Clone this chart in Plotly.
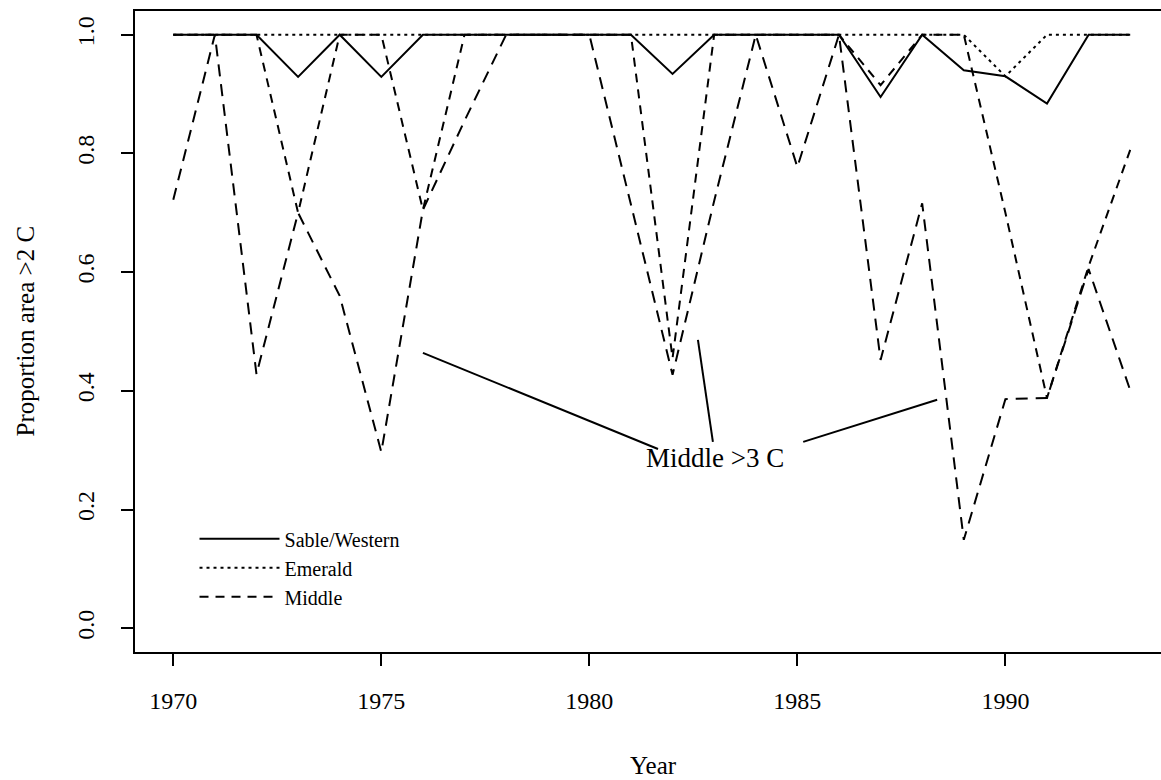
import plotly.graph_objects as go

years = list(range(1970, 1994))
sable_western = [1.0, 1.0, 1.0, 0.929, 1.0, 0.929, 1.0, 1.0, 1.0, 1.0, 1.0, 1.0,
                 0.934, 1.0, 1.0, 1.0, 1.0, 0.895, 1.0, 0.94, 0.93, 0.884, 1.0, 1.0]
emerald = [1.0, 1.0, 1.0, 1.0, 1.0, 1.0, 1.0, 1.0, 1.0, 1.0, 1.0, 1.0,
           1.0, 1.0, 1.0, 1.0, 1.0, 1.0, 1.0, 1.0, 0.93, 1.0, 1.0, 1.0]
middle_2c = [1.0, 1.0, 1.0, 0.70, 1.0, 1.0, 0.705, 1.0, 1.0, 1.0, 1.0, 1.0,
             0.455, 1.0, 1.0, 1.0, 1.0, 0.915, 1.0, 1.0, 0.70, 0.388, 0.61, 0.806]
middle_3c = [0.722, 1.0, 0.428, 0.70, 0.56, 0.297, 0.705, 0.855, 1.0, 1.0, 1.0, 0.714,
             0.427, 0.72, 1.0, 0.777, 1.0, 0.452, 0.716, 0.149, 0.386, 0.388, 0.605, 0.401]

x_ticks = [1970, 1975, 1980, 1985, 1990]
y_ticks = [0.0, 0.2, 0.4, 0.6, 0.8, 1.0]
y_tick_labels = ["0.0", "0.2", "0.4", "0.6", "0.8", "1.0"]

label_text = "Middle >3 C"
label_pos = (1983.03, 0.287)
pointer_segments = [
    ((1976.0, 0.464), (1981.65, 0.302)),
    ((1982.61, 0.486), (1982.97, 0.314)),
    ((1985.14, 0.314), (1988.36, 0.385)),
]

FONT = "Liberation Serif, Times New Roman, serif"

fig = go.Figure()
fig.add_trace(go.Scatter(x=years, y=middle_3c, mode="lines", showlegend=False,
                         line=dict(color="black", width=2, dash="12px,8px")))
fig.add_trace(go.Scatter(x=years, y=middle_2c, mode="lines", name="Middle",
                         line=dict(color="black", width=2, dash="9px,7px")))
fig.add_trace(go.Scatter(x=years, y=emerald, mode="lines", name="Emerald",
                         line=dict(color="black", width=2, dash="3px,4px")))
fig.add_trace(go.Scatter(x=years, y=sable_western, mode="lines", name="Sable/Western",
                         line=dict(color="black", width=2)))

for (x0, y0), (x1, y1) in pointer_segments:
    fig.add_shape(type="line", xref="x", yref="y", x0=x0, y0=y0, x1=x1, y1=y1,
                  line=dict(color="black", width=2))

fig.add_annotation(x=label_pos[0], y=label_pos[1], xref="x", yref="y", text=label_text,
                   showarrow=False, font=dict(family=FONT, size=27, color="black"),
                   xanchor="center", yanchor="middle")

fig.add_annotation(x=0, y=0.5, xref="paper", yref="paper", text="Proportion area >2 C",
                   textangle=-90, showarrow=False, xshift=-110,
                   font=dict(family=FONT, size=25, color="black"),
                   xanchor="center", yanchor="middle")
fig.add_annotation(x=0.5, y=0, xref="paper", yref="paper", text="Year",
                   showarrow=False, xshift=5, yshift=-113,
                   font=dict(family=FONT, size=25, color="black"),
                   xanchor="center", yanchor="middle")

fig.update_layout(
    width=1161, height=780,
    margin=dict(l=135, r=0, t=11, b=128),
    paper_bgcolor="white", plot_bgcolor="white",
    font=dict(family=FONT, color="black"),
    legend=dict(x=0.058, y=0.207, xanchor="left", yanchor="top",
                traceorder="reversed", itemwidth=80,
                font=dict(family=FONT, size=20, color="black"),
                bgcolor="rgba(0,0,0,0)", borderwidth=0),
    xaxis=dict(range=[1969.08, 1993.74], tickvals=x_ticks,
               ticks="outside", ticklen=12, tickwidth=1.5, tickcolor="black",
               showgrid=False, zeroline=False, showline=True, linecolor="black",
               linewidth=2, mirror=True, ticklabelstandoff=14,
               tickfont=dict(family=FONT, size=24, color="black")),
    yaxis=dict(range=[-0.04, 1.04], tickvals=y_ticks, ticktext=y_tick_labels,
               tickangle=-90, ticks="outside", ticklen=12, tickwidth=1.5,
               tickcolor="black", showgrid=False, zeroline=False, showline=True,
               linecolor="black", linewidth=2, mirror=False, ticklabelstandoff=17,
               tickfont=dict(family=FONT, size=24, color="black")),
)

fig.write_html("out.html", config={"displayModeBar": False},
               post_script="document.body.style.margin='0px';document.body.style.padding='0px';")
